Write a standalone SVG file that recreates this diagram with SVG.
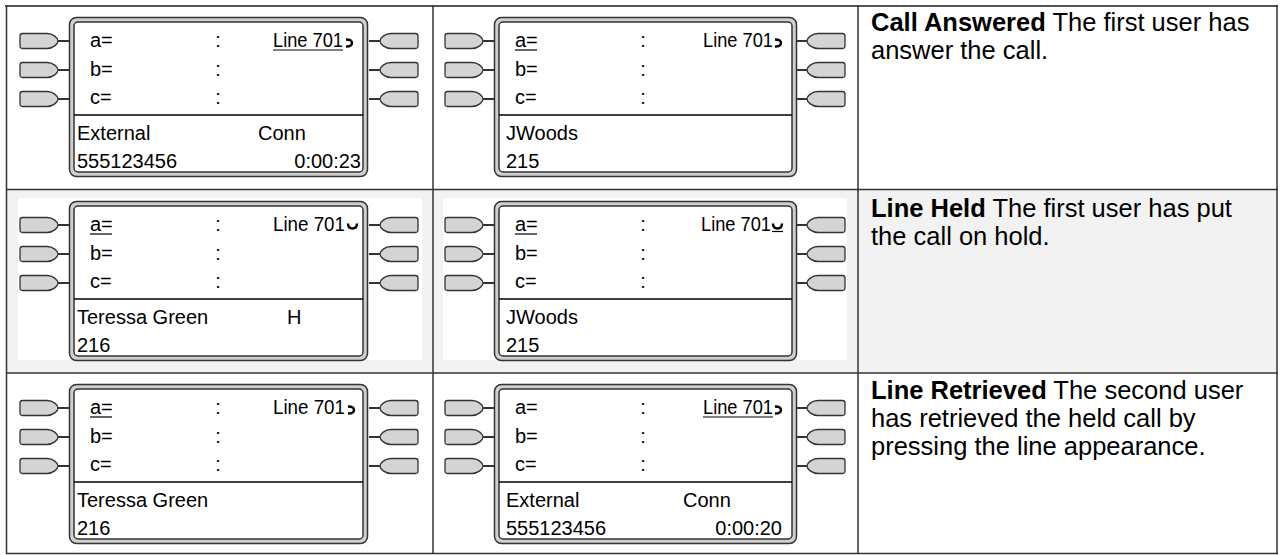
<svg xmlns="http://www.w3.org/2000/svg" width="1283" height="555" viewBox="0 0 1283 555">
<style>
.ph{font-family:"Liberation Sans",Arial,sans-serif;font-size:20px;fill:#000}
.ds{font-family:"Liberation Sans",Arial,sans-serif;font-size:25.5px;fill:#000}
.b{font-weight:bold}
.fo{fill:#cfcfcf;stroke:#333;stroke-width:1.5}
.fi{fill:#fff;stroke:#333;stroke-width:1.5}
.ln{stroke:#000;stroke-width:1.5;fill:none}
.ul{stroke:#000;stroke-width:1.2}
.ic{stroke:#000;stroke-width:2.4;fill:none}
.btn{fill:#d4d4d4;stroke:#333;stroke-width:1.3}
.stem{stroke:#333;stroke-width:2}
.grid{stroke:#333;stroke-width:1.5}
</style>
<defs>
<g id="btn">
<path class="btn" d="M2.5,-7.5 H27 C33,-7.5 38,-3 38,0 C38,3 33,7.5 27,7.5 H2.5 Q0,7.5 0,5 V-5 Q0,-7.5 2.5,-7.5 Z"/>
<path class="stem" d="M38,0 H49"/>
</g>
<g id="labels1">
<text class="ph" x="90" y="47">a=</text>
<text class="ph" x="90" y="76">b=</text>
<text class="ph" x="90" y="104">c=</text>
<text class="ph" x="218" y="47" text-anchor="middle">:</text>
<text class="ph" x="218" y="76" text-anchor="middle">:</text>
<text class="ph" x="218" y="104" text-anchor="middle">:</text>
</g>
<g id="frame1">
<use href="#btn" transform="translate(20,41)"/>
<use href="#btn" transform="translate(20,70)"/>
<use href="#btn" transform="translate(20,99)"/>
<use href="#btn" transform="translate(418,41) scale(-1,1)"/>
<use href="#btn" transform="translate(418,70) scale(-1,1)"/>
<use href="#btn" transform="translate(418,99) scale(-1,1)"/>
<rect class="fo" x="69.5" y="17.5" width="298" height="159" rx="7"/>
<rect class="fi" x="74" y="22" width="289" height="150" rx="4"/>
<line class="ln" x1="74" y1="115" x2="363" y2="115"/>
<use href="#labels1"/>
</g>
<g id="frame2">
<use href="#btn" transform="translate(20,41)"/>
<use href="#btn" transform="translate(20,70)"/>
<use href="#btn" transform="translate(20,99)"/>
<use href="#btn" transform="translate(420,41) scale(-1,1)"/>
<use href="#btn" transform="translate(420,70) scale(-1,1)"/>
<use href="#btn" transform="translate(420,99) scale(-1,1)"/>
<rect class="fo" x="69.5" y="17.5" width="302" height="159" rx="7"/>
<rect class="fi" x="74" y="22" width="293" height="150" rx="4"/>
<line class="ln" x1="74" y1="115" x2="367" y2="115"/>
<use href="#labels1"/>
</g>
<path id="icConn" class="ic" d="M346,39.5 Q352,39.5 352,43 Q352,46.5 346,46.5"/>
<path id="icHold" class="ic" d="M348,39.5 Q348,44.5 352.5,44.5 Q357,44.5 357,39.5"/>
</defs>

<g id="table">
<rect x="7" y="190" width="1270" height="183" fill="#f2f2f2"/>
<rect x="18" y="198" width="404" height="162" fill="#fff"/>
<rect x="443" y="198" width="404" height="162" fill="#fff"/>
<line x1="5" y1="6" x2="1278" y2="6" stroke="#555" stroke-width="2"/>
<line class="grid" x1="6.5" y1="5" x2="6.5" y2="554"/>
<line class="grid" x1="433" y1="5" x2="433" y2="554"/>
<line class="grid" x1="858" y1="5" x2="858" y2="554"/>
<line class="grid" x1="1277" y1="5" x2="1277" y2="554"/>
<line class="grid" x1="6" y1="189.5" x2="1278" y2="189.5"/>
<line class="grid" x1="6" y1="373" x2="1278" y2="373"/>
<line class="grid" x1="6" y1="553.5" x2="1278" y2="553.5"/>
</g>

<g id="phone-r1c1">
<use href="#frame1"/>
<text class="ph" x="273" y="47" textLength="70" lengthAdjust="spacingAndGlyphs">Line 701</text>
<line class="ul" x1="273" y1="50" x2="343" y2="50"/>
<use href="#icConn"/>
<text class="ph" x="77" y="140">External</text>
<text class="ph" x="258" y="140">Conn</text>
<text class="ph" x="77" y="168">555123456</text>
<text class="ph" x="361" y="168" text-anchor="end">0:00:23</text>
</g>

<g id="phone-r1c2" transform="translate(425,0)">
<use href="#frame2"/>
<line class="ul" x1="90" y1="50" x2="112" y2="50"/>
<text class="ph" x="278" y="47" textLength="70" lengthAdjust="spacingAndGlyphs">Line 701</text>
<use href="#icConn" transform="translate(4,0)"/>
<text class="ph" x="81" y="140">JWoods</text>
<text class="ph" x="81" y="168">215</text>
</g>

<g id="phone-r2c1" transform="translate(0,184)">
<use href="#frame1"/>
<line class="ul" x1="90" y1="50" x2="112" y2="50"/>
<text class="ph" x="273" y="47" textLength="72" lengthAdjust="spacingAndGlyphs">Line 701</text>
<use href="#icHold"/>
<text class="ph" x="77" y="140">Teressa Green</text>
<text class="ph" x="287" y="140">H</text>
<text class="ph" x="77" y="168">216</text>
</g>

<g id="phone-r2c2" transform="translate(425,184)">
<use href="#frame2"/>
<line class="ul" x1="90" y1="50" x2="112" y2="50"/>
<text class="ph" x="276" y="47" textLength="70" lengthAdjust="spacingAndGlyphs">Line 701</text>
<use href="#icHold"/>
<line class="ul" x1="347" y1="47.5" x2="358" y2="47.5"/>
<text class="ph" x="81" y="140">JWoods</text>
<text class="ph" x="81" y="168">215</text>
</g>

<g id="phone-r3c1" transform="translate(0,367)">
<use href="#frame1"/>
<line class="ul" x1="90" y1="50" x2="112" y2="50"/>
<text class="ph" x="273" y="47" textLength="72" lengthAdjust="spacingAndGlyphs">Line 701</text>
<use href="#icConn" transform="translate(2,0)"/>
<text class="ph" x="77" y="140">Teressa Green</text>
<text class="ph" x="77" y="168">216</text>
</g>

<g id="phone-r3c2" transform="translate(425,367)">
<use href="#frame2"/>
<text class="ph" x="278" y="47" textLength="70" lengthAdjust="spacingAndGlyphs">Line 701</text>
<line class="ul" x1="278" y1="50" x2="348" y2="50"/>
<use href="#icConn" transform="translate(4,0)"/>
<text class="ph" x="81" y="140">External</text>
<text class="ph" x="258" y="140">Conn</text>
<text class="ph" x="81" y="168">555123456</text>
<text class="ph" x="357" y="168" text-anchor="end">0:00:20</text>
</g>

<g id="desc1">
<text class="ds" x="871" y="31"><tspan class="b">Call Answered</tspan> The first user has</text>
<text class="ds" x="871" y="59">answer the call.</text>
</g>
<g id="desc2">
<text class="ds" x="871" y="217"><tspan class="b">Line Held</tspan> The first user has put</text>
<text class="ds" x="871" y="245">the call on hold.</text>
</g>
<g id="desc3">
<text class="ds" x="871" y="399"><tspan class="b">Line Retrieved</tspan> The second user</text>
<text class="ds" x="871" y="427">has retrieved the held call by</text>
<text class="ds" x="871" y="455">pressing the line appearance.</text>
</g>
</svg>
